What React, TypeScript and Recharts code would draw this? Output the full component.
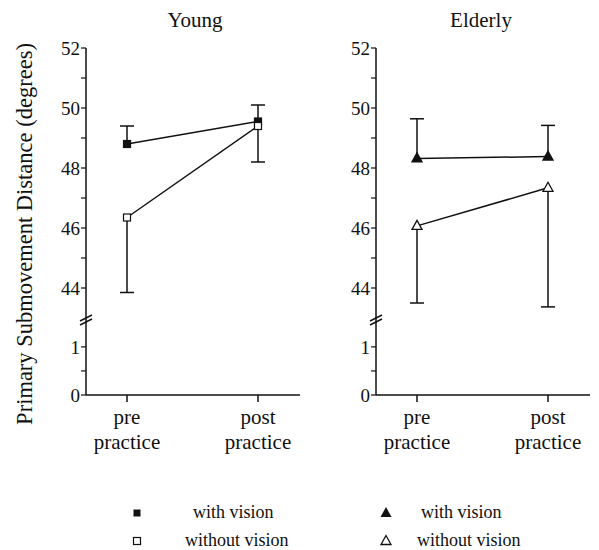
import { ComposedChart, Line, XAxis, YAxis, ErrorBar } from 'recharts';

const categories = ['pre practice', 'post practice'];

// Young
const youngWith = [48.8, 49.55];
const youngWithUpper = [49.4, 50.1];
const youngWithout = [46.35, 49.4];
const youngWithoutLower = [43.85, 48.2];

// Elderly
const elderlyWith = [48.32, 48.38];
const elderlyWithUpper = [49.64, 49.42];
const elderlyWithout = [46.07, 47.34];
const elderlyWithoutLower = [43.5, 43.37];

const upperTicks = [44, 45, 46, 47, 48, 49, 50, 51, 52];
const lowerTicks = [0, 0.5, 1];

const FONT = 'Liberation Serif';
const INK = '#111';

function buildRows(withV: number[], withUp: number[], without: number[], withoutLow: number[]) {
  return categories.map((c, i) => ({
    label: c,
    withV: withV[i],
    withErr: [0, withUp[i] - withV[i]],
    withCap: withUp[i],
    withoutV: without[i],
    withoutErr: [without[i] - withoutLow[i], 0],
    withoutCap: withoutLow[i],
  }));
}

const youngRows = buildRows(youngWith, youngWithUpper, youngWithout, youngWithoutLower);
const elderlyRows = buildRows(elderlyWith, elderlyWithUpper, elderlyWithout, elderlyWithoutLower);

type Marker = 'square' | 'triangle';

function makeDot(marker: Marker, filled: boolean) {
  return (props: any) => {
    const { cx, cy, index } = props;
    if (cx == null || cy == null) return <g key={index} />;
    const fill = filled ? INK : '#fff';
    if (marker === 'square') {
      return <rect key={index} x={cx - 3.5} y={cy - 3.5} width={7} height={7} fill={fill} stroke={INK} strokeWidth={1.2} />;
    }
    return (
      <polygon
        key={index}
        points={`${cx},${cy - 5.5} ${cx - 5},${cy + 3.5} ${cx + 5},${cy + 3.5}`}
        fill={fill}
        stroke={INK}
        strokeWidth={1.3}
      />
    );
  };
}

const capDot = (props: any) => {
  const { cx, cy, index } = props;
  if (cx == null || cy == null) return <g key={index} />;
  return <line key={index} x1={cx - 7} x2={cx + 7} y1={cy} y2={cy} stroke={INK} strokeWidth={1.5} />;
};

const UpperTick = (props: any) => {
  const { x, y, payload } = props;
  if (payload.value % 2 !== 0) return <g />;
  return (
    <text x={x} y={y} dy="0.36em" textAnchor="end" fontFamily={FONT} fontSize={19} fill={INK}>
      {payload.value}
    </text>
  );
};

const LowerTick = (props: any) => {
  const { x, y, payload } = props;
  if (!Number.isInteger(payload.value)) return <g />;
  return (
    <text x={x} y={y} dy="0.36em" textAnchor="end" fontFamily={FONT} fontSize={19} fill={INK}>
      {payload.value}
    </text>
  );
};

const CatTick = (props: any) => {
  const { x, y, payload } = props;
  const [a, b] = String(payload.value).split(' ');
  return (
    <text x={x} y={y} textAnchor="middle" fontFamily={FONT} fontSize={21} fill={INK}>
      <tspan x={x} dy={20}>{a}</tspan>
      <tspan x={x} dy={25}>{b}</tspan>
    </text>
  );
};

const X_PAD = { left: 41, right: 42 };

function Panel({ rows, marker, left }: { rows: any[]; marker: Marker; left: number }) {
  return (
    <>
      <div style={{ position: 'absolute', left, top: 0 }}>
        <ComposedChart width={310} height={318} data={rows} margin={{ top: 48, right: 10, bottom: 0, left: 0 }}>
          <XAxis dataKey="label" scale="point" padding={X_PAD} hide />
          <YAxis
            width={86}
            domain={[43, 52]}
            ticks={upperTicks}
            allowDataOverflow
            tick={UpperTick}
            tickSize={5}
            tickMargin={1}
            axisLine={{ stroke: INK, strokeWidth: 1.5 }}
            tickLine={{ stroke: INK, strokeWidth: 1.2 }}
          />
          <Line dataKey="withV" stroke={INK} strokeWidth={1.5} dot={makeDot(marker, true)} activeDot={false} isAnimationActive={false}>
            <ErrorBar dataKey="withErr" width={0} stroke={INK} strokeWidth={1.5} direction="y" isAnimationActive={false} />
          </Line>
          <Line dataKey="withCap" stroke="none" dot={capDot} activeDot={false} isAnimationActive={false} />
          <Line dataKey="withoutV" stroke={INK} strokeWidth={1.5} dot={makeDot(marker, false)} activeDot={false} isAnimationActive={false}>
            <ErrorBar dataKey="withoutErr" width={0} stroke={INK} strokeWidth={1.5} direction="y" isAnimationActive={false} />
          </Line>
          <Line dataKey="withoutCap" stroke="none" dot={capDot} activeDot={false} isAnimationActive={false} />
        </ComposedChart>
      </div>
      <div style={{ position: 'absolute', left, top: 318 }}>
        <ComposedChart width={310} height={157} data={rows} margin={{ top: 0, right: 10, bottom: 0, left: 0 }}>
          <XAxis
            dataKey="label"
            scale="point"
            padding={X_PAD}
            height={80}
            tick={CatTick}
            tickSize={7}
            tickMargin={2}
            axisLine={{ stroke: INK, strokeWidth: 1.5 }}
            tickLine={{ stroke: INK, strokeWidth: 1.5 }}
          />
          <YAxis
            width={86}
            domain={[0, 1.6]}
            ticks={lowerTicks}
            allowDataOverflow
            tick={LowerTick}
            tickSize={5}
            tickMargin={1}
            axisLine={{ stroke: INK, strokeWidth: 1.5 }}
            tickLine={{ stroke: INK, strokeWidth: 1.2 }}
          />
        </ComposedChart>
      </div>
    </>
  );
}

function BreakMark({ x, y }: { x: number; y: number }) {
  return (
    <g stroke={INK} strokeWidth={1.5}>
      <line x1={x - 6} y1={y + 1} x2={x + 6} y2={y - 5} />
      <line x1={x - 6} y1={y + 5} x2={x + 6} y2={y - 1} />
    </g>
  );
}

export default function App() {
  return (
    <div style={{ position: 'absolute', left: 0, top: 0, width: 599, height: 550, background: '#fff' }}>
      <Panel rows={youngRows} marker="square" left={0} />
      <Panel rows={elderlyRows} marker="triangle" left={290} />
      <svg width={599} height={550} style={{ position: 'absolute', left: 0, top: 0, pointerEvents: 'none' }}>
        <text x={195} y={27} textAnchor="middle" fontFamily={FONT} fontSize={21} fill={INK}>Young</text>
        <text x={481} y={27} textAnchor="middle" fontFamily={FONT} fontSize={21} fill={INK}>Elderly</text>
        <text
          x={0}
          y={0}
          transform="translate(32 234) rotate(-90)"
          textAnchor="middle"
          fontFamily={FONT}
          fontSize={22.5}
          fill={INK}
        >
          Primary Submovement Distance (degrees)
        </text>
        <BreakMark x={86} y={320} />
        <BreakMark x={376} y={320} />
        {/* legend */}
        <rect x={133.5} y={509.5} width={7} height={7} fill={INK} />
        <rect x={133.5} y={537.5} width={7} height={7} fill="#fff" stroke={INK} strokeWidth={1.2} />
        <text x={193} y={518} fontFamily={FONT} fontSize={18} fill={INK}>with vision</text>
        <text x={185} y={546} fontFamily={FONT} fontSize={18} fill={INK}>without vision</text>
        <polygon points="386,507 380.5,517 391.5,517" fill={INK} />
        <polygon points="386,535.5 381,544.5 391,544.5" fill="#fff" stroke={INK} strokeWidth={1.3} />
        <text x={421} y={518} fontFamily={FONT} fontSize={18} fill={INK}>with vision</text>
        <text x={417} y={546} fontFamily={FONT} fontSize={18} fill={INK}>without vision</text>
      </svg>
    </div>
  );
}
